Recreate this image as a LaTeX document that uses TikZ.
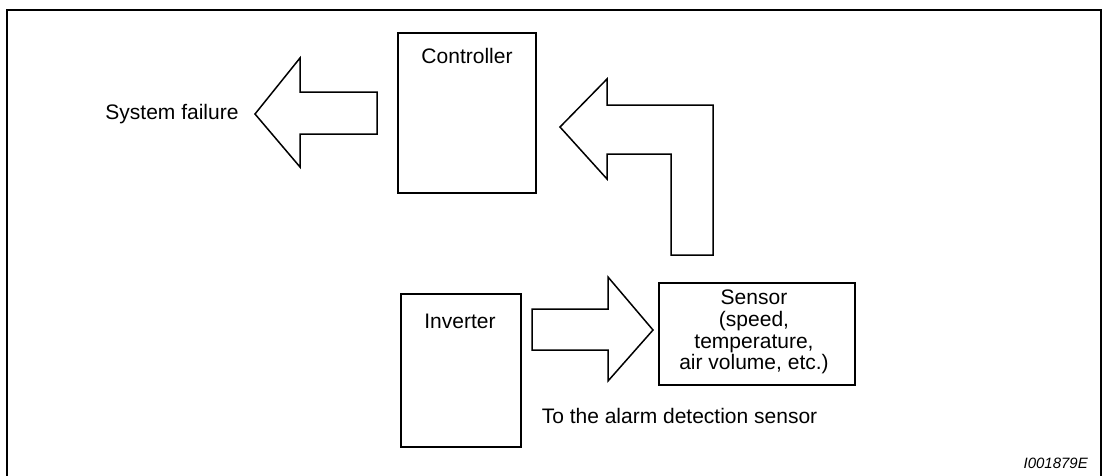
\documentclass[tikz,border=0pt]{standalone}
\usepackage{fontspec}
\setmainfont{Liberation Sans}
\begin{document}
\begin{tikzpicture}[x=1pt,y=-1pt,
  box/.style={draw=black,line width=1.5pt,inner sep=0pt},
  blockarrow/.style={draw=black,line width=1.5pt,line join=miter,fill=white},
  txt/.style={inner sep=0pt,font=\fontsize{21}{21.7}\selectfont,align=center},
  code/.style={inner sep=0pt,font=\fontsize{15}{15}\selectfont\itshape}]
\useasboundingbox (0,0) rectangle (1103,475);
% frame (open at bottom)
\draw[line width=2.2pt,line join=miter] (7,476) -- (7,10) -- (1101,10) -- (1101,476);
% boxes
\node[box,minimum width=138pt,minimum height=160pt] (ctrl) at (467,113) {};
\node[box,minimum width=120pt,minimum height=153pt] (inv) at (461,370.5) {};
\node[box,minimum width=196pt,minimum height=102pt] (sens) at (757,334) {};
% texts
\node[txt] (ctrltxt) at (467,56) {Controller};
\node[txt] (invtxt) at (460,321) {Inverter};
\node[txt] (senstxt) at (754,332) {Sensor\\(speed,\\temperature,\\air volume, etc.)};
\node[txt] (fail) at (172,114) {System failure};
\node[txt] (alarm) at (679.5,416) {To the alarm detection sensor};
\node[code,anchor=east] (id) at (1088,463) {I001879E};
% block arrows
\draw[blockarrow] (255,114) -- (300,58) -- (300,92) -- (377,92) -- (377,134) -- (300,134) -- (300,167) -- cycle;
\draw[blockarrow] (560,127) -- (607,79) -- (607,105) -- (713,105) -- (713,255) -- (671,255) -- (671,154) -- (607,154) -- (607,179) -- cycle;
\draw[blockarrow] (532,309) -- (608,309) -- (608,277) -- (653,330) -- (608,381) -- (608,350) -- (532,350) -- cycle;
\end{tikzpicture}
\end{document}
